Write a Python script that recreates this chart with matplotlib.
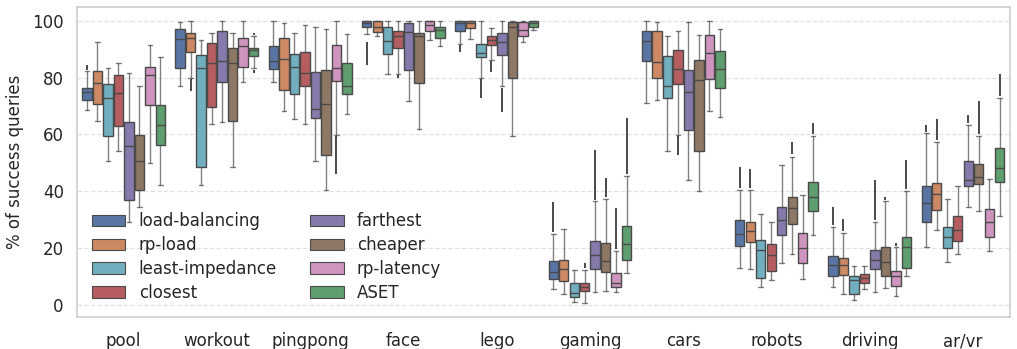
import matplotlib.pyplot as plt
import seaborn as sns
from matplotlib.patches import Patch

apps = ['pool', 'workout', 'pingpong', 'face', 'lego',
        'gaming', 'cars', 'robots', 'driving', 'ar/vr']
methods = ['load-balancing', 'rp-load', 'least-impedance', 'closest',
           'farthest', 'cheaper', 'rp-latency', 'ASET']

# box statistics per method, one value per app (same order as `apps`)
whislo = [
    [68.7, 77.2, 78.6, 95.3, 91.8, 5.6, 71.0, 12.9, 6.2, 20.5],
    [64.6, 79.8, 68.1, 94.5, 93.7, 3.8, 72.2, 12.6, 3.8, 26.4],
    [50.7, 42.3, 65.5, 81.2, 80.0, 0.9, 54.0, 6.2, 1.8, 15.0],
    [54.2, 63.6, 63.6, 81.2, 86.3, 0.6, 59.9, 8.8, 5.5, 17.8],
    [29.3, 64.2, 50.5, 71.6, 76.9, 4.5, 44.0, 14.7, 4.3, 34.3],
    [34.3, 48.4, 40.5, 62.0, 59.5, 4.9, 40.1, 17.8, 5.9, 32.9],
    [49.9, 78.6, 59.9, 93.3, 92.5, 4.5, 68.1, 9.2, 2.9, 19.0],
    [42.3, 83.3, 67.1, 91.0, 96.8, 11.2, 66.0, 24.4, 10.2, 31.3],
]
q1 = [
    [72.2, 83.3, 83.0, 98.0, 96.6, 9.2, 86.0, 20.8, 10.2, 29.3],
    [70.7, 89.2, 75.7, 96.0, 97.4, 8.2, 80.0, 22.1, 10.6, 33.2],
    [59.6, 48.4, 74.3, 88.3, 87.1, 2.6, 72.8, 9.4, 3.8, 20.0],
    [63.1, 69.8, 77.2, 90.4, 91.5, 4.7, 77.7, 11.7, 7.6, 22.3],
    [37.0, 78.3, 65.7, 82.7, 88.0, 12.7, 61.6, 24.6, 12.7, 41.7],
    [40.3, 64.8, 52.8, 78.1, 79.8, 11.5, 54.3, 28.4, 10.0, 42.6],
    [70.4, 83.6, 78.9, 96.5, 94.5, 6.1, 79.5, 14.7, 6.5, 23.7],
    [56.3, 87.8, 74.4, 94.1, 97.8, 15.6, 76.3, 32.9, 12.9, 43.2],
]
med = [
    [74.8, 93.7, 85.9, 99.2, 99.2, 11.4, 93.0, 24.9, 14.1, 35.8],
    [78.1, 93.9, 86.5, 97.8, 99.2, 12.6, 85.4, 25.8, 14.1, 39.0],
    [72.8, 83.3, 83.7, 93.0, 88.6, 4.1, 77.2, 19.4, 8.6, 23.8],
    [74.5, 85.1, 81.8, 94.8, 93.3, 6.1, 83.1, 17.4, 9.4, 26.2],
    [55.8, 85.7, 68.9, 96.0, 92.7, 17.4, 74.9, 29.9, 15.8, 43.8],
    [50.5, 85.3, 70.8, 94.5, 98.0, 15.3, 79.0, 34.0, 15.0, 45.0],
    [80.8, 91.3, 83.3, 98.4, 96.8, 7.6, 88.8, 20.0, 10.0, 29.0],
    [63.4, 89.6, 77.1, 96.8, 99.2, 21.4, 83.1, 37.8, 20.3, 48.1],
]
q3 = [
    [76.3, 97.2, 91.2, 100.0, 100.0, 15.5, 96.5, 29.9, 17.3, 41.9],
    [82.2, 95.7, 94.1, 100.0, 100.0, 15.8, 96.5, 29.3, 16.4, 42.8],
    [77.7, 88.0, 88.3, 98.0, 91.9, 7.6, 87.7, 22.7, 10.0, 27.3],
    [80.8, 92.1, 89.0, 96.5, 94.7, 7.6, 89.8, 21.4, 10.9, 31.3],
    [64.3, 96.5, 81.9, 99.2, 95.7, 22.3, 82.7, 34.4, 19.1, 50.5],
    [59.9, 90.4, 82.7, 95.7, 99.5, 21.7, 86.3, 37.8, 20.5, 49.5],
    [83.9, 94.1, 91.5, 100.0, 99.5, 11.2, 95.1, 25.2, 12.0, 33.7],
    [70.4, 90.6, 85.1, 98.0, 99.8, 27.8, 89.4, 43.4, 23.8, 55.2],
]
whishi = [
    [82.2, 99.5, 99.8, 100.0, 100.0, 25.0, 100.0, 40.5, 27.3, 60.4],
    [92.7, 100.0, 99.2, 100.0, 100.0, 26.6, 99.5, 40.5, 25.2, 57.2],
    [83.3, 93.3, 95.7, 100.0, 100.0, 12.1, 94.5, 31.9, 13.5, 37.2],
    [85.1, 95.7, 98.6, 100.0, 97.4, 12.3, 96.6, 29.3, 13.5, 41.7],
    [81.6, 100.0, 97.7, 100.0, 100.0, 36.4, 99.5, 49.3, 29.1, 63.4],
    [77.2, 95.7, 97.1, 100.0, 100.0, 37.2, 95.1, 52.2, 36.4, 59.6],
    [91.5, 100.0, 99.8, 100.0, 100.0, 19.0, 100.0, 38.5, 20.2, 44.2],
    [87.4, 94.8, 95.3, 99.8, 100.0, 45.4, 97.2, 59.3, 40.1, 72.8],
]

# outlier runs: (method index, app index, lowest, highest)
fliers = [
    (0, 0, 82.6, 84.5), (0, 3, 84.5, 92.7), (0, 4, 89.0, 91.4),
    (0, 5, 25.6, 36.2), (0, 7, 41.2, 48.4), (0, 8, 28.0, 34.3),
    (0, 9, 61.0, 63.4),
    (1, 1, 75.4, 79.4), (1, 7, 41.2, 47.9), (1, 8, 26.0, 30.3),
    (1, 9, 58.0, 65.5),
    (2, 4, 73.0, 79.5),
    (3, 3, 79.8, 80.8), (3, 4, 81.9, 85.8), (3, 5, 12.8, 14.7),
    (3, 6, 52.8, 59.4),
    (4, 4, 67.8, 76.4), (4, 5, 37.0, 54.6), (4, 8, 29.8, 44.0),
    (4, 9, 64.0, 66.7),
    (5, 5, 38.0, 44.6), (5, 7, 53.0, 57.5), (5, 8, 36.8, 37.8),
    (5, 9, 60.2, 71.6),
    (6, 2, 46.0, 59.4), (6, 5, 19.6, 34.0), (6, 8, 20.6, 21.9),
    (7, 1, 81.6, 82.6), (7, 1, 95.2, 95.8), (7, 5, 46.0, 65.7),
    (7, 7, 60.0, 64.0), (7, 8, 40.8, 51.1), (7, 9, 73.4, 81.2),
]

base_colors = ['#4C72B0', '#DD8452', '#64B5CD', '#C44E52',
               '#8172B3', '#937860', '#DA8BC3', '#55A868']
colors = [sns.desaturate(c, 0.75) for c in base_colors]
line_color = '#4a4a4a'

sns.set_theme(style='whitegrid')
plt.rcParams['font.family'] = ['DejaVu Sans']

fig = plt.figure(figsize=(10.17, 3.49), dpi=100)
ax = fig.add_axes([0.0757, 0.092, 0.917, 0.888])

step = 0.1125
box_w = 0.1
for m, name in enumerate(methods):
    offset = (m - 3.5) * step
    stats = []
    for a in range(len(apps)):
        stats.append(dict(whislo=whislo[m][a], q1=q1[m][a], med=med[m][a],
                          q3=q3[m][a], whishi=whishi[m][a], fliers=[]))
    pos = [a + offset for a in range(len(apps))]
    ax.bxp(stats, positions=pos, widths=box_w, patch_artist=True,
           showfliers=False, manage_ticks=False,
           boxprops=dict(facecolor=colors[m], edgecolor=line_color, linewidth=1.0),
           medianprops=dict(color=line_color, linewidth=1.0),
           whiskerprops=dict(color=line_color, linewidth=1.0, alpha=0.7),
           capprops=dict(color=line_color, linewidth=1.0, alpha=0.7))

# dense outlier runs drawn as dark streaks
for m, a, lo, hi in fliers:
    x = a + (m - 3.5) * step
    ax.vlines(x, lo, hi, color='#3a3a3a', linewidth=1.3, zorder=3)

ax.set_xlim(-0.5, len(apps) - 0.5)
ax.set_ylim(-4.3, 104.9)
ax.set_xticks(range(len(apps)))
ax.set_xticklabels(apps, fontsize=12)
ax.set_yticks([0, 20, 40, 60, 80, 100])
ax.tick_params(axis='y', labelsize=12)
ax.tick_params(axis='x', pad=5)
ax.set_ylabel('% of success queries', fontsize=12, labelpad=6)
ax.xaxis.grid(False)
ax.yaxis.grid(True, linestyle='--', color='#e2e2e2', linewidth=0.9)
ax.set_axisbelow(True)
for sp in ax.spines.values():
    sp.set_color('#d0d0d0')

handles = [Patch(facecolor=colors[m], edgecolor=line_color, linewidth=0.8, label=name)
           for m, name in enumerate(methods)]
ax.legend(handles=handles, ncol=2, loc='lower left', fontsize=12,
          frameon=False, bbox_to_anchor=(0.0, 0.0), labelspacing=0.35)

fig.savefig('out.png', dpi=100)
